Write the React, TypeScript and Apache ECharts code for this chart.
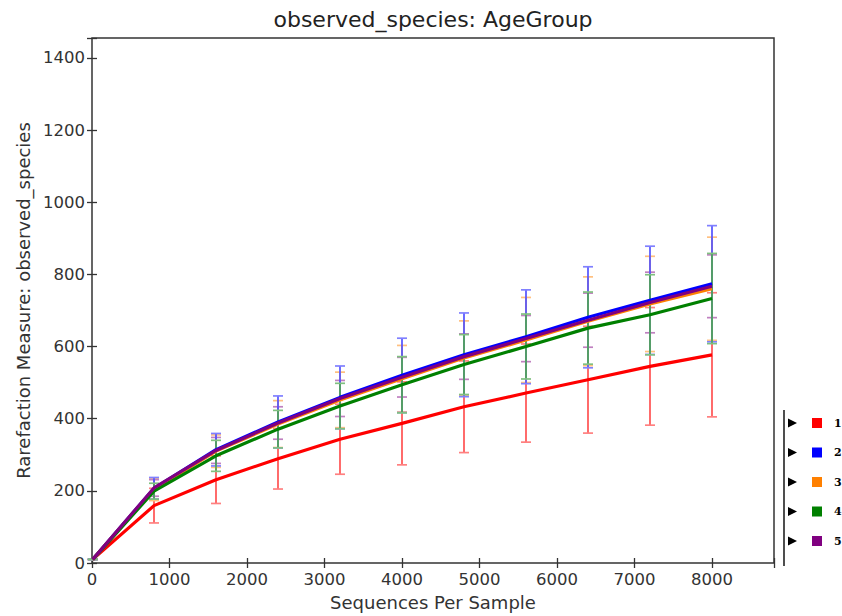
import React, { useEffect, useRef } from "react";
import * as echarts from "echarts";

// ---- data ----
const groups = ["1", "2", "3", "4", "5"];
const groupColors = ["#ff0000", "#0000ff", "#ff8000", "#008000", "#800080"];
const depths = [10, 800, 1600, 2400, 3200, 4000, 4800, 5600, 6400, 7200, 8000];

const mean1 = [10, 159, 231, 289, 343, 387, 433, 471, 508, 545, 577];
const std1 = [0.5, 48, 66, 84, 97, 115, 127, 136, 148, 163, 172];
const mean2 = [10, 207, 314, 391, 459, 520, 577, 627, 681, 728, 774];
const std2 = [0.5, 30, 45, 72, 87, 103, 116, 130, 140, 150, 161];
const mean3 = [10, 204, 310, 385, 452, 511, 568, 618, 670, 718, 760];
const std3 = [0.5, 31, 45, 65, 77, 92, 103, 118, 123, 132, 143];
const mean4 = [10, 199, 297, 371, 435, 494, 550, 600, 651, 688, 733];
const std4 = [0.5, 22, 43, 52, 63, 78, 83, 90, 100, 111, 125];
const mean5 = [10, 208, 312, 388, 456, 515, 572, 622, 673, 722, 767];
const std5 = [0.5, 23, 36, 45, 50, 55, 63, 64, 75, 84, 87];

const means = [mean1, mean2, mean3, mean4, mean5];
const stds = [std1, std2, std3, std4, std5];
// drawing order of the error bars (last one on top)
const errorOrder = [0, 2, 4, 1, 3];

const xTickMax = 8000;
const xMax = 8800;
const yTickMax = 1400;
const yMax = 1455;

const titleText = "observed_species: AgeGroup";
const xName = "Sequences Per Sample";
const yName = "Rarefaction Measure: observed_species";

const FONT = "DejaVu Sans";

function tint(hex: string, alpha: number) {
  const n = parseInt(hex.slice(1), 16);
  const r = (n >> 16) & 255, g = (n >> 8) & 255, b = n & 255;
  const m = (c: number) => Math.round(c * alpha + 255 * (1 - alpha));
  return `rgb(${m(r)},${m(g)},${m(b)})`;
}

export default function App() {
  const ref = useRef<HTMLDivElement>(null);

  useEffect(() => {
    if (!ref.current) return;
    const chart = echarts.init(ref.current, undefined, { renderer: "svg" });

    const gridLeft = 92;
    const gridTop = 38;
    const gridWidth = 682;
    const gridHeight = 529;

    const errorSeries = errorOrder.map((gi) => ({
      type: "custom",
      name: groups[gi] + "_err",
      xAxisIndex: 0,
      yAxisIndex: 0,
      z: 2,
      silent: true,
      encode: { x: 0, y: [1, 2] },
      data: depths.map((d, i) => [d, means[gi][i] - stds[gi][i], means[gi][i] + stds[gi][i]]),
      renderItem: (params: any, api: any) => {
        const x = api.value(0);
        const lo = api.coord([x, api.value(1)]);
        const hi = api.coord([x, api.value(2)]);
        const cap = 5;
        const style = { stroke: tint(groupColors[gi], 0.68), lineWidth: 1.7 };
        const capStyle = { stroke: tint(groupColors[gi], 0.5), lineWidth: 1.7 };
        return {
          type: "group",
          children: [
            { type: "line", shape: { x1: lo[0], y1: lo[1], x2: hi[0], y2: hi[1] }, style },
            { type: "line", shape: { x1: hi[0] - cap, y1: hi[1], x2: hi[0] + cap, y2: hi[1] }, style: capStyle },
            { type: "line", shape: { x1: lo[0] - cap, y1: lo[1], x2: lo[0] + cap, y2: lo[1] }, style: capStyle },
          ],
        };
      },
    }));

    const lineSeries = groups.map((g, gi) => ({
      type: "line",
      name: g,
      xAxisIndex: 0,
      yAxisIndex: 0,
      z: 3,
      symbol: "none",
      silent: true,
      lineStyle: { color: groupColors[gi], width: 3.2 },
      itemStyle: { color: groupColors[gi] },
      data: depths.map((d, i) => [d, means[gi][i]]),
    }));

    const tickStyle = { show: true, inside: true, length: 5, lineStyle: { color: "#333", width: 1.3 } };
    const labelStyle = { color: "#333", fontFamily: FONT, fontSize: 16.5 };

    const legendX = 784;
    const legendTop = 410;
    const legendBottom = 566;
    const rowY0 = 423;
    const rowGap = 29.5;

    const legendGraphics: any[] = [
      {
        type: "line",
        shape: { x1: legendX, y1: legendTop, x2: legendX, y2: legendBottom },
        style: { stroke: "#222", lineWidth: 1.6 },
      },
    ];
    groups.forEach((g, gi) => {
      const y = rowY0 + gi * rowGap;
      legendGraphics.push({
        type: "polygon",
        shape: { points: [[788, y - 4.5], [797, y], [788, y + 4.5]] },
        style: { fill: "#000" },
      });
      legendGraphics.push({
        type: "rect",
        shape: { x: 812, y: y - 5, width: 10, height: 10 },
        style: { fill: groupColors[gi] },
      });
      legendGraphics.push({
        type: "text",
        x: 834,
        y: y,
        style: {
          text: g,
          fill: "#000",
          font: "bold 11px 'DejaVu Serif'",
          verticalAlign: "middle",
          textAlign: "left",
        },
      });
    });

    chart.setOption({
      animation: false,
      backgroundColor: "#ffffff",
      grid: {
        left: gridLeft,
        top: gridTop,
        width: gridWidth,
        height: gridHeight,
        show: true,
        borderColor: "#333",
        borderWidth: 1.5,
        backgroundColor: "transparent",
      },
      xAxis: [
        {
          type: "value",
          min: 0,
          max: xMax,
          interval: 1000,
          position: "bottom",
          splitLine: { show: false },
          axisLine: { show: false },
          axisTick: tickStyle,
          axisLabel: {
            ...labelStyle,
            margin: 8,
            formatter: (v: number) => (v <= xTickMax && v % 1000 === 0 ? String(v) : ""),
          },
          name: xName,
          nameLocation: "middle",
          nameGap: 30,
          nameTextStyle: { color: "#333", fontFamily: FONT, fontSize: 18 },
        },
        {
          type: "value",
          min: 0,
          max: xMax,
          interval: 1000,
          position: "top",
          splitLine: { show: false },
          axisLine: { show: false },
          axisTick: tickStyle,
          axisLabel: { show: false },
        },
      ],
      yAxis: [
        {
          type: "value",
          min: 0,
          max: yMax,
          interval: 200,
          position: "left",
          splitLine: { show: false },
          axisLine: { show: false },
          axisTick: tickStyle,
          axisLabel: {
            ...labelStyle,
            margin: 7,
            formatter: (v: number) => (v <= yTickMax && v % 200 === 0 ? String(v) : ""),
          },
          name: yName,
          nameLocation: "middle",
          nameGap: 58,
          nameTextStyle: { color: "#333", fontFamily: FONT, fontSize: 18 },
        },
        {
          type: "value",
          min: 0,
          max: yMax,
          interval: 200,
          position: "right",
          splitLine: { show: false },
          axisLine: { show: false },
          axisTick: tickStyle,
          axisLabel: { show: false },
        },
      ],
      graphic: [
        {
          type: "text",
          x: gridLeft + gridWidth / 2,
          y: 8,
          style: {
            text: titleText,
            fill: "#222",
            font: `22px '${FONT}'`,
            textAlign: "center",
            verticalAlign: "top",
          },
        },
        ...legendGraphics,
      ],
      series: [...errorSeries, ...lineSeries],
    });

    return () => chart.dispose();
  }, []);

  return (
    <div
      ref={ref}
      style={{ position: "fixed", left: 0, top: 0, width: 842, height: 616, background: "#fff" }}
    />
  );
}
